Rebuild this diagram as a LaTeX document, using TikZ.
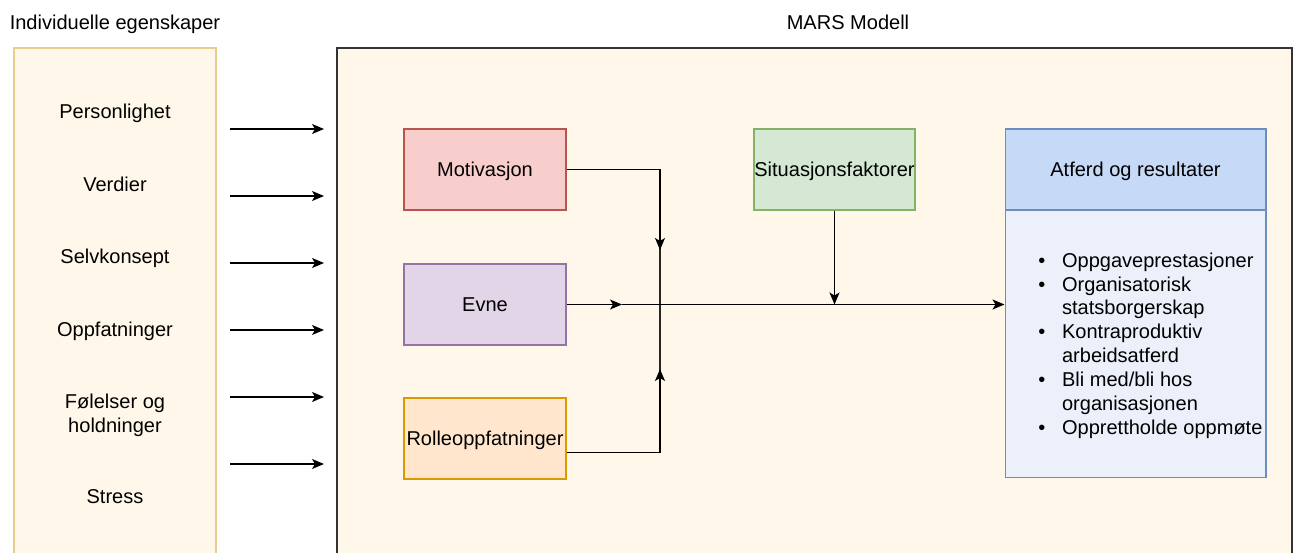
\documentclass[tikz,border=0pt]{standalone}
\usepackage{fontspec}
\setmainfont{Liberation Sans}
\usetikzlibrary{arrows.meta,positioning}
\definecolor{cream}{HTML}{FFF8EA}
\definecolor{goldline}{HTML}{E6CE8C}
\definecolor{motfill}{HTML}{F8CECC}\definecolor{motline}{HTML}{B85450}
\definecolor{evnefill}{HTML}{E1D5E7}\definecolor{evneline}{HTML}{9673A6}
\definecolor{rollefill}{HTML}{FFE6CC}\definecolor{rolleline}{HTML}{D79B00}
\definecolor{sitfill}{HTML}{D5E8D4}\definecolor{sitline}{HTML}{82B366}
\definecolor{atfhead}{HTML}{C6D9F7}\definecolor{atfbody}{HTML}{EBF0FB}\definecolor{atfline}{HTML}{6C8EBF}
\tikzset{every node/.style={font=\fontsize{11.4}{13.6}\selectfont, inner sep=0pt},
  mbox/.style={draw, rectangle, line width=0.6pt, minimum width=3.24cm, minimum height=1.62cm, text depth=0pt},
  item/.style={align=center, text depth=0pt},
  arr/.style={-{Stealth[length=2.4mm,width=2mm,inset=0.6mm]}, line width=0.75pt, black},
  link/.style={line width=0.75pt, black!85}}

\begin{document}
\begin{tikzpicture}[x=0.02cm,y=-0.02cm]
  \useasboundingbox (0,0) rectangle (1298,553);
  \fill[white] (0,0) rectangle (1298,553);
  % left column
  \node[item] (indtitle) at (115,22) {Individuelle egenskaper};
  \draw[goldline, fill=cream, line width=0.8pt] (14,48) rectangle (216,580);
  \node[item] (pers)   at (115,111) {Personlighet};
  \node[item] (verd)   at (115,184) {Verdier};
  \node[item] (selv)   at (115,256) {Selvkonsept};
  \node[item] (oppf)   at (115,329) {Oppfatninger};
  \node[item] (fol)    at (115,413) {Følelser og\\holdninger};
  \node[item] (stress) at (115,497) {Stress};
  \foreach \y [count=\i] in {129,196,263,330,397,464} {
    \coordinate (l\i) at (230,\y);
    \coordinate (r\i) at (324,\y);
    \draw[arr] (l\i) -- (r\i);
  }
  % MARS box
  \node[item] (marstitle) at (848,22) {MARS Modell};
  \draw[black!80, fill=cream, line width=0.9pt] (337,48) rectangle (1292,580);
  \node[mbox, fill=motfill, draw=motline]     (mot)   at (485,169.5) {Motivasjon};
  \node[mbox, fill=evnefill, draw=evneline]   (evne)  at (485,304.5) {Evne};
  \node[mbox, fill=rollefill, draw=rolleline] (rolle) at (485,438.5) {Rolleoppfatninger};
  \node[mbox, fill=sitfill, draw=sitline, minimum width=3.22cm] (sit) at (834.5,169.5) {Situasjonsfaktorer};
  \node[mbox, fill=atfbody, draw=atfline, minimum width=5.22cm, minimum height=5.36cm] (atf) at (1135.5,344) {};
  \node[mbox, fill=atfhead, draw=atfline, minimum width=5.22cm] (atfhead) at (1135.5,169.5) {Atferd og resultater};
  \node[anchor=west] (atflist) at (1038,346) {%
    \begin{tabular}{@{}l@{\hspace{9.5pt}}l@{}}
      \textbullet & Oppgaveprestasjoner\\
      \textbullet & Organisatorisk\\
                  & statsborgerskap\\
      \textbullet & Kontraproduktiv\\
                  & arbeidsatferd\\
      \textbullet & Bli med/bli hos\\
                  & organisasjonen\\
      \textbullet & Opprettholde oppmøte
    \end{tabular}};
  % connectors
  \coordinate (jn) at (660,304.5);
  \coordinate (mt) at (660,250);
  \coordinate (rt) at (660,369);
  \coordinate (et) at (622,304.5);
  \coordinate (st) at (834.5,304.5);
  \coordinate (ro) at ([yshift=-14*0.02cm]rolle.east);
  \draw[link] (mot.east) -| (jn);
  \draw[arr] (mot.east) -| (mt);
  \draw[link] (ro) -| (jn);
  \draw[arr] (ro) -| (rt);
  \draw[arr] (evne.east) -- (et);
  \draw[arr] (et) -- (atf.west |- jn);
  \draw[arr] (sit.south) -- (st);
\end{tikzpicture}
\end{document}
